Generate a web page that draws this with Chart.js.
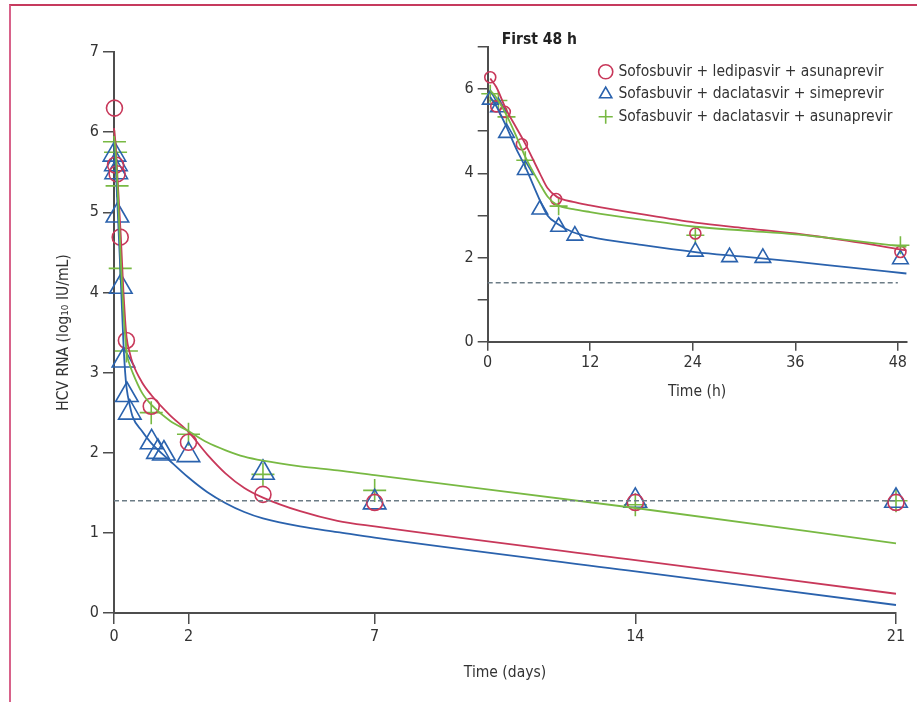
<!DOCTYPE html>
<html><head><meta charset="utf-8">
<script src="https://cdn.jsdelivr.net/npm/chart.js@4/dist/chart.umd.min.js"></script>
<style>
html,body{margin:0;padding:0;background:#fff;}
#wrap{position:relative;width:917px;height:702px;overflow:hidden;background:#fff;}
#frame{position:absolute;left:9px;top:4px;width:1000px;height:1000px;border-top:2px solid #c63a5e;border-left:2px solid #d8628a;}
#main{position:absolute;left:0;top:0;}
#inset{position:absolute;left:440px;top:0;}
</style></head><body>
<div id="wrap"><div id="frame"></div>
<canvas id="main" width="917" height="702"></canvas>
<canvas id="inset" width="477" height="420"></canvas>
</div>
<script>
// ---------- data ----------
const seriesNames = ['Sofosbuvir + ledipasvir + asunaprevir', 'Sofasbuvir + daclatasvir + simeprevir', 'Sofasbuvir + daclatasvir + asunaprevir'];
const lloq = 1.4;

// main panel (days): observed
const redDays = [0.0125, 0.042, 0.083, 0.167, 0.333, 1, 2, 4, 7, 14, 21];
const redVals = [6.3, 5.59, 5.48, 4.69, 3.4, 2.58, 2.13, 1.48, 1.38, 1.38, 1.38];
const blueDays = [0.0125, 0.052, 0.06, 0.092, 0.183, 0.254, 0.346, 0.425, 1.01, 1.18, 1.34, 2, 4, 7, 14, 21];
const blueVals = [5.72, 5.6, 5.5, 4.96, 4.07, 3.15, 2.72, 2.5, 2.13, 2.01, 1.99, 1.97, 1.75, 1.38, 1.40, 1.40];
const greenDays = [0.0125, 0.042, 0.083, 0.167, 0.333, 1, 2, 4, 7, 14, 21];
const greenVals = [5.88, 5.75, 5.33, 4.3, 3.27, 2.5, 2.23, 1.73, 1.53, 1.35, 1.4];

// main panel (days): fitted curves
const fitDays = [0, 0.042, 0.092, 0.183, 0.254, 0.3, 0.338, 0.42, 0.5, 0.75, 1, 1.5, 2, 2.5, 3, 3.5, 4, 5, 6, 7, 14, 21];
const fitRed = [6.05, 5.85, 5.45, 4.7, 4.0, 3.65, 3.44, 3.25, 3.12, 2.88, 2.72, 2.47, 2.26, 1.98, 1.74, 1.56, 1.44, 1.27, 1.15, 1.08, 0.66, 0.24];
const fitGreen = [5.95, 5.75, 5.35, 4.39, 3.75, 3.45, 3.25, 3.1, 3.0, 2.75, 2.6, 2.4, 2.27, 2.13, 2.03, 1.95, 1.9, 1.83, 1.78, 1.72, 1.31, 0.87];
const fitBlue = [5.85, 5.6, 5.1, 4.15, 3.36, 3.0, 2.81, 2.6, 2.45, 2.27, 2.12, 1.9, 1.69, 1.51, 1.37, 1.26, 1.18, 1.08, 1.01, 0.94, 0.52, 0.1];
const dayTicks = [0, 2, 7, 14, 21];

// inset (hours): observed
const redHours = [0.3, 1, 2, 4, 8, 24.3, 48.3];
const redHVals = [6.28, 5.59, 5.46, 4.69, 3.39, 2.57, 2.13];
const blueHours = [0.3, 1.25, 2.2, 4.4, 6.1, 8.3, 10.2, 24.3, 28.3, 32.2, 48.3];
const blueHVals = [5.75, 5.57, 4.96, 4.08, 3.14, 2.73, 2.52, 2.14, 2.01, 1.99, 1.96];
const greenHours = [0.3, 1.25, 2.2, 4.4, 8.3, 24.3, 48.3];
const greenHVals = [5.89, 5.73, 5.34, 4.31, 3.22, 2.53, 2.29];

// inset (hours): fitted curves
const fitHours = [0.3, 1, 2.2, 3.3, 4.4, 6.1, 7, 8.1, 10, 12, 18, 24.3, 30, 36, 42, 49];
const fitHRed = [6.25, 6.05, 5.5, 5.1, 4.7, 4.0, 3.65, 3.44, 3.32, 3.24, 3.03, 2.83, 2.7, 2.57, 2.4, 2.17];
const fitHGreen = [5.97, 5.8, 5.38, 4.9, 4.39, 3.75, 3.45, 3.25, 3.15, 3.08, 2.9, 2.73, 2.64, 2.55, 2.42, 2.25];
const fitHBlue = [5.81, 5.6, 5.1, 4.6, 4.15, 3.36, 3.0, 2.81, 2.6, 2.49, 2.3, 2.13, 2.02, 1.9, 1.77, 1.62];
const hourTicks = [0, 12, 24, 36, 48];

// ---------- styles ----------
const RED = '#c8385a', BLUE = '#2a62ad', GREEN = '#78b943', DASH = '#6c7c86';
const AXIS = '#4d4d4d', TXT = '#333333';
const FONT = "'Liberation Sans Narrow', 'DejaVu Sans Condensed', sans-serif";
Chart.defaults.font.family = FONT;
Chart.defaults.color = TXT;

const pts = (xs, ys) => xs.map((x, i) => ({x: x, y: ys[i]}));

function curve(xs, ys, color) {
  return {type: 'line', data: pts(xs, ys), borderColor: color, borderWidth: 1.8, pointRadius: 0,
          cubicInterpolationMode: 'monotone', fill: false, clip: false};
}
function marks(label, xs, ys, color, style, r) {
  return {type: 'scatter', label: label, data: pts(xs, ys), pointStyle: style, pointRadius: r,
          pointBorderColor: color, borderColor: color, pointBackgroundColor: 'rgba(0,0,0,0)',
          backgroundColor: 'rgba(0,0,0,0)', pointBorderWidth: 1.6, borderWidth: 1.6, clip: false, showLine: false};
}
function dashed(x0, x1) {
  return {type: 'line', data: [{x: x0, y: lloq}, {x: x1, y: lloq}], borderColor: DASH, borderWidth: 1.5,
          borderDash: [5, 3], pointRadius: 0, clip: false};
}
function axisGrid() {
  return {drawOnChartArea: false, drawTicks: true, tickLength: 11, color: AXIS, lineWidth: 1.5};
}

// ---------- main chart ----------
new Chart(document.getElementById('main'), {
  type: 'scatter',
  data: {datasets: [
    dashed(0, 21),
    curve(fitDays, fitGreen, GREEN),
    curve(fitDays, fitBlue, BLUE),
    curve(fitDays, fitRed, RED),
    marks(seriesNames[0], redDays, redVals, RED, 'circle', 8),
    marks(seriesNames[1], blueDays, blueVals, BLUE, 'triangle', 13),
    marks(seriesNames[2], greenDays, greenVals, GREEN, 'cross', 11.5)
  ]},
  options: {
    responsive: false, animation: false, events: [],
    layout: {padding: {left: 0, top: 52, right: 21, bottom: 0}},
    plugins: {legend: {display: false}, tooltip: {enabled: false}},
    scales: {
      x: {type: 'linear', min: 0, max: 21,
          afterBuildTicks: s => { s.ticks = dayTicks.map(v => ({value: v})); },
          afterFit: s => { s.height = 89; },
          grid: axisGrid(), border: {color: AXIS, width: 2},
          ticks: {font: {size: 16}, padding: 3, color: TXT, maxRotation: 0, autoSkip: false},
          title: {display: true, text: 'Time (days)', font: {size: 15.5}, color: TXT, padding: {top: 0, bottom: 20}}},
      y: {type: 'linear', min: 0, max: 7,
          ticks: {stepSize: 1, font: {size: 16}, padding: 4, color: TXT},
          afterFit: s => { s.width = 114; },
          grid: axisGrid(), border: {color: AXIS, width: 2},
          title: {display: true, text: 'HCV RNA (log\u2081\u2080 IU/mL)', font: {size: 15.5}, color: TXT, padding: {top: 55, bottom: 0}}}
    }
  }
});

// ---------- inset chart ----------
const legendPlace = {
  id: 'legendPlace',
  afterLayout(chart) {
    const L = chart.legend;
    if (!L) return;
    const w = L.width, h = L.height;
    L.left = 153.7; L.top = 57; L.right = L.left + w; L.bottom = L.top + h;
  }
};
const insetTitle = {
  id: 'insetTitle',
  afterDraw(chart) {
    const ctx = chart.ctx;
    ctx.save();
    ctx.font = 'bold 15.5px ' + FONT;
    ctx.fillStyle = '#222';
    ctx.textAlign = 'left';
    ctx.textBaseline = 'middle';
    ctx.fillText('First 48 h', chart.chartArea.left + 14, 40);
    ctx.restore();
  }
};

new Chart(document.getElementById('inset'), {
  type: 'scatter',
  data: {datasets: [
    dashed(0, 48),
    curve(fitHours, fitHGreen, GREEN),
    curve(fitHours, fitHBlue, BLUE),
    curve(fitHours, fitHRed, RED),
    marks(seriesNames[0], redHours, redHVals, RED, 'circle', 5.5),
    marks(seriesNames[1], blueHours, blueHVals, BLUE, 'triangle', 9),
    marks(seriesNames[2], greenHours, greenHVals, GREEN, 'cross', 9)
  ]},
  plugins: [legendPlace, insetTitle],
  options: {
    responsive: false, animation: false, events: [],
    layout: {padding: {left: 0, top: 47, right: 10, bottom: 0}},
    plugins: {
      tooltip: {enabled: false},
      legend: {display: true, position: 'chartArea', align: 'start',
               labels: {usePointStyle: true, boxWidth: 10, boxHeight: 10, padding: 7, color: TXT,
                        font: {size: 15.5},
                        filter: item => item.datasetIndex >= 4}}
    },
    scales: {
      x: {type: 'linear', min: 0, max: 49,
          afterBuildTicks: s => { s.ticks = hourTicks.map(v => ({value: v})); },
          afterFit: s => { s.height = 78.3; },
          grid: Object.assign(axisGrid(), {tickLength: 9}), border: {color: AXIS, width: 2},
          ticks: {font: {size: 16}, padding: 3, color: TXT, maxRotation: 0, autoSkip: false},
          title: {display: true, text: 'Time (h)', font: {size: 15.5}, color: TXT, padding: {top: 0, bottom: 19}}},
      y: {type: 'linear', min: 0, max: 7,
          ticks: {stepSize: 1, font: {size: 16}, padding: 4, color: TXT,
                  callback: v => (v % 2 === 0 ? String(v) : '')},
          afterFit: s => { s.width = 47.7; },
          grid: Object.assign(axisGrid(), {tickLength: 10}), border: {color: AXIS, width: 2}}
    }
  }
});
</script>
</body></html>
